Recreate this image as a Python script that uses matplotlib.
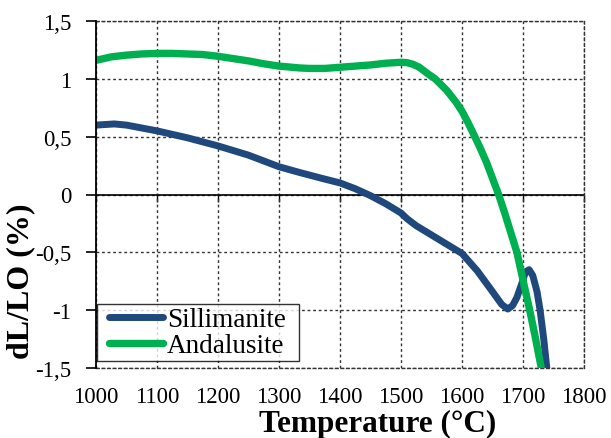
import matplotlib
matplotlib.use("Agg")
import matplotlib.pyplot as plt
from matplotlib.lines import Line2D
from matplotlib.legend_handler import HandlerLine2D

plt.rcParams['font.family'] = ['Liberation Serif', 'DejaVu Serif']

# ---- data ----
sil_T = [1000, 1030, 1050, 1100, 1150, 1200, 1250, 1300, 1334, 1370, 1400, 1425, 1450,
         1475, 1500, 1510, 1525, 1550, 1575, 1600, 1625, 1650, 1665, 1675, 1683, 1690, 1698,
         1704, 1710, 1716, 1723, 1728, 1734, 1739, 1742]
sil_v = [0.60, 0.61, 0.60, 0.55, 0.49, 0.42, 0.34, 0.24, 0.19, 0.14, 0.10, 0.05, -0.01,
         -0.08, -0.16, -0.21, -0.27, -0.35, -0.43, -0.51, -0.66, -0.84, -0.95, -0.99, -0.96, -0.89, -0.77,
         -0.67, -0.65, -0.70, -0.84, -1.00, -1.25, -1.50, -1.62]

and_T = [1000, 1025, 1050, 1075, 1100, 1125, 1150, 1175, 1200, 1225, 1250, 1275, 1300,
         1334, 1350, 1375, 1400, 1425, 1450, 1475, 1500, 1510, 1520, 1530, 1545, 1556, 1575,
         1590, 1600, 1610, 1621, 1630, 1640, 1650, 1660, 1670, 1680, 1690, 1700, 1711,
         1720, 1730, 1734]
and_v = [1.16, 1.19, 1.205, 1.215, 1.22, 1.22, 1.215, 1.21, 1.195, 1.175, 1.155, 1.13, 1.11,
         1.094, 1.09, 1.09, 1.10, 1.11, 1.12, 1.135, 1.143, 1.14, 1.125, 1.10, 1.04, 1.0, 0.90,
         0.80, 0.72, 0.62, 0.50, 0.40, 0.28, 0.14, 0.0, -0.16, -0.33, -0.50, -0.74, -1.0,
         -1.23, -1.50, -1.60]

series_names = ['Sillimanite', 'Andalusite']
series_colors = ['#1F497D', '#00B050']

xticks = [1000, 1100, 1200, 1300, 1400, 1500, 1600, 1700, 1800]
xtick_labels = ['1000', '1100', '1200', '1300', '1400', '1500', '1600', '1700', '1800']
yticks = [-1.5, -1.0, -0.5, 0.0, 0.5, 1.0, 1.5]
ytick_labels = ['-1,5', '-1', '-0,5', '0', '0,5', '1', '1,5']

W, H = 611, 439
fig = plt.figure(figsize=(W / 100, H / 100), dpi=100)
ax = fig.add_axes([96 / W, (H - 369) / H, (584 - 96) / W, (369 - 22) / H])

grid_kw = dict(color='#333333', lw=1.0, linestyle=(0, (2, 2)))

ax.plot(sil_T, sil_v, color=series_colors[0], lw=5.0, solid_capstyle='round',
        label=series_names[0], zorder=3)
ax.plot(and_T, and_v, color=series_colors[1], lw=5.3, solid_capstyle='round',
        label=series_names[1], zorder=3)

ax.set_xlim(1000, 1800)
ax.set_ylim(-1.5, 1.5)
ax.set_xticks(xticks)
ax.set_xticklabels(xtick_labels)
ax.set_yticks(yticks)
ax.set_yticklabels(ytick_labels)

ax.grid(True, **grid_kw)
ax.axhline(0, color='black', lw=1.2, zorder=2)

for s in ['top', 'right', 'bottom']:
    ax.spines[s].set_linestyle((0, (2, 2)))
    ax.spines[s].set_color('#333333')
    ax.spines[s].set_linewidth(1.0)
ax.spines['left'].set_color('black')
ax.spines['left'].set_linewidth(1.3)
ax.spines['left'].set_zorder(4)

ax.tick_params(axis='x', length=0, pad=13, labelsize=16.5)
ax.tick_params(axis='y', direction='out', length=7, width=1.2, pad=10.8, labelsize=16.5)

# tick marks on the zero line
sec = ax.secondary_xaxis(0.5)
sec.set_xticks(xticks)
sec.set_xticklabels([''] * len(xticks))
sec.xaxis.set_ticks_position('bottom')
sec.tick_params(axis='x', direction='out', length=5, width=1.0,
                labelbottom=False, labeltop=False)
for s in sec.spines.values():
    s.set_visible(False)

leg = ax.legend(loc='lower left', bbox_to_anchor=(0.002, 0.02, 0.414, 0.1),
                mode='expand', borderaxespad=0,
                fontsize=19.5, frameon=True, fancybox=False, handlelength=2.34,
                handletextpad=0.15, borderpad=0.1, labelspacing=0.05,
                handler_map={Line2D: HandlerLine2D(xpad=0.34)})
leg.get_frame().set_edgecolor('black')
leg.get_frame().set_linewidth(1.0)
leg.set_zorder(5)

fig.text(377.5 / W, (H - 432) / H, 'Temperature (°C)', ha='center', va='baseline',
         fontsize=22.5, fontweight='bold')
fig.text(21 / W, (H - 281.5) / H, 'dL/LO (%)', ha='center', va='center', rotation=90,
         fontsize=23, fontweight='bold')

fig.savefig('out.png', dpi=100)
